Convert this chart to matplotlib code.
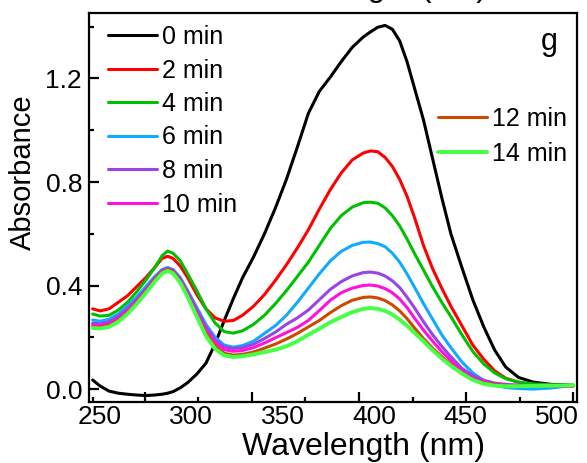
import matplotlib
matplotlib.use("Agg")
import matplotlib.pyplot as plt

plt.rcParams['font.family'] = ['Liberation Sans', 'DejaVu Sans']

# wavelength grid (nm) and absorbance
wavelength = [246, 250, 255, 260, 265, 270, 275, 280, 284, 287, 290, 294, 298, 303, 308, 313, 318,
              323, 328, 334, 340, 346, 352, 358, 364, 370, 376, 382, 388, 394, 398, 402, 406, 410,
              414, 418, 422, 427, 432, 437, 442, 448, 454, 460, 466, 472, 479, 487, 497, 509]

abs_0 = [0.035, 0.012, -0.008, -0.016, -0.02, -0.023, -0.025, -0.023, -0.02, -0.016, -0.01, 0.005,
         0.025, 0.058, 0.10, 0.175, 0.265, 0.35, 0.43, 0.51, 0.60, 0.70, 0.81, 0.935, 1.065, 1.15, 1.205,
         1.265, 1.32, 1.36, 1.38, 1.398, 1.405, 1.39, 1.345, 1.265, 1.165, 1.04, 0.89, 0.74, 0.60, 0.47,
         0.345, 0.24, 0.15, 0.085, 0.045, 0.027, 0.018, 0.015]
abs_2 = [0.31, 0.302, 0.31, 0.335, 0.36, 0.395, 0.43, 0.47, 0.505, 0.513, 0.505, 0.475, 0.43, 0.365,
         0.31, 0.275, 0.262, 0.265, 0.285, 0.32, 0.365, 0.42, 0.48, 0.545, 0.615, 0.695, 0.77, 0.835,
         0.885, 0.912, 0.92, 0.917, 0.895, 0.86, 0.81, 0.745, 0.665, 0.555, 0.465, 0.39, 0.32, 0.245,
         0.17, 0.115, 0.07, 0.042, 0.026, 0.018, 0.015, 0.012]
abs_4 = [0.29, 0.282, 0.285, 0.305, 0.335, 0.375, 0.42, 0.47, 0.515, 0.533, 0.525, 0.495, 0.445, 0.38,
         0.31, 0.255, 0.222, 0.216, 0.225, 0.25, 0.285, 0.33, 0.38, 0.435, 0.49, 0.555, 0.62, 0.67,
         0.703, 0.72, 0.722, 0.718, 0.70, 0.67, 0.63, 0.58, 0.525, 0.46, 0.395, 0.335, 0.28, 0.21,
         0.145, 0.097, 0.062, 0.04, 0.027, 0.02, 0.016, 0.013]
abs_6 = [0.267, 0.262, 0.27, 0.29, 0.32, 0.355, 0.395, 0.435, 0.462, 0.47, 0.462, 0.43, 0.38, 0.315,
         0.25, 0.20, 0.17, 0.162, 0.168, 0.185, 0.215, 0.245, 0.285, 0.335, 0.39, 0.445, 0.495, 0.532,
         0.555, 0.567, 0.568, 0.562, 0.55, 0.525, 0.49, 0.445, 0.395, 0.33, 0.27, 0.21, 0.16, 0.105,
         0.062, 0.033, 0.015, 0.006, 0.002, 0.0, 0.004, 0.015]
abs_8 = [0.255, 0.252, 0.26, 0.28, 0.31, 0.345, 0.385, 0.43, 0.458, 0.466, 0.458, 0.425, 0.375, 0.305,
         0.24, 0.19, 0.163, 0.157, 0.16, 0.173, 0.195, 0.22, 0.25, 0.275, 0.305, 0.345, 0.385, 0.415,
         0.437, 0.45, 0.452, 0.448, 0.437, 0.418, 0.392, 0.355, 0.315, 0.26, 0.21, 0.165, 0.125, 0.08,
         0.052, 0.034, 0.023, 0.018, 0.015, 0.014, 0.013, 0.013]
abs_10 = [0.247, 0.245, 0.252, 0.272, 0.302, 0.338, 0.38, 0.425, 0.455, 0.464, 0.455, 0.42, 0.368, 0.295,
          0.228, 0.178, 0.152, 0.146, 0.149, 0.16, 0.178, 0.198, 0.218, 0.238, 0.265, 0.303, 0.343, 0.372,
          0.39, 0.40, 0.402, 0.398, 0.388, 0.372, 0.348, 0.315, 0.275, 0.228, 0.185, 0.145, 0.11, 0.07,
          0.043, 0.028, 0.019, 0.015, 0.014, 0.013, 0.013, 0.013]
abs_12 = [0.24, 0.238, 0.245, 0.265, 0.295, 0.333, 0.375, 0.42, 0.452, 0.462, 0.452, 0.415, 0.36, 0.285,
          0.215, 0.165, 0.138, 0.131, 0.134, 0.143, 0.158, 0.174, 0.193, 0.215, 0.24, 0.265, 0.295, 0.322,
          0.343, 0.354, 0.356, 0.352, 0.342, 0.325, 0.302, 0.272, 0.237, 0.195, 0.158, 0.125, 0.095, 0.062,
          0.038, 0.024, 0.017, 0.014, 0.013, 0.013, 0.013, 0.013]
abs_14 = [0.236, 0.234, 0.24, 0.26, 0.29, 0.328, 0.37, 0.415, 0.447, 0.457, 0.447, 0.41, 0.355, 0.28,
          0.205, 0.155, 0.13, 0.124, 0.127, 0.134, 0.143, 0.152, 0.165, 0.185, 0.21, 0.233, 0.258, 0.278,
          0.297, 0.31, 0.313, 0.31, 0.302, 0.288, 0.268, 0.245, 0.218, 0.185, 0.15, 0.118, 0.09, 0.06,
          0.035, 0.02, 0.013, 0.011, 0.011, 0.012, 0.013, 0.015]

labels = ['0 min', '2 min', '4 min', '6 min', '8 min', '10 min', '12 min', '14 min']
series = [abs_0, abs_2, abs_4, abs_6, abs_8, abs_10, abs_12, abs_14]
colors = ['#000000', '#ff0000', '#00c000', '#11aaff', '#9944e6', '#ff11dd', '#cc4a00', '#44ff44']
widths = [2.2, 2.2, 2.2, 2.2, 2.2, 2.2, 2.2, 2.8]

# tick marks as drawn in the reference (they do not sit under the labels)
xticks_long = [274.6, 333.2, 391.7, 450.2, 508.8]
xticks_short = [246.2, 303.6, 362.1, 421.2, 479.8]
xtick_labels = [250, 300, 350, 400, 450, 500]

fig = plt.figure(figsize=(5.87, 4.63), dpi=100)
ax = fig.add_axes([89 / 587, 1 - 402 / 463, 488 / 587, 389 / 463])

lines = []
for y, c, lw, lab in zip(series, colors, widths, labels):
    ln, = ax.plot(wavelength, y, color=c, lw=lw, label=lab,
                  solid_capstyle='round', solid_joinstyle='round')
    lines.append(ln)

ax.set_xlim(244, 511)
ax.set_ylim(-0.05, 1.453)

for s in ax.spines.values():
    s.set_linewidth(1.6)

ax.set_xticks(xticks_long)
ax.set_xticks(xticks_short, minor=True)
ax.set_xticklabels([])
ax.set_yticks([0.0, 0.4, 0.8, 1.2])
ax.set_yticks([0.2, 0.6, 1.0, 1.4], minor=True)
ax.set_yticklabels(['0.0', '0.4', '0.8', '1.2'])
ax.tick_params(which='both', direction='in', width=1.6, top=False, right=False)
ax.tick_params(which='major', length=7)
ax.tick_params(which='minor', length=3.6)
ax.tick_params(axis='y', labelsize=19, pad=5)

sec = ax.secondary_xaxis('bottom')
sec.set_xticks(xtick_labels)
sec.set_xticklabels([str(v) for v in xtick_labels])
sec.tick_params(length=0, labelsize=19, pad=2)
sec.spines['bottom'].set_visible(False)

fig.text(364 / 587, 1 - 455 / 463, 'Wavelength (nm)', fontsize=23, ha='center', va='baseline')
# x label of the panel above, cropped at the top edge as in the reference
fig.text(366 / 587, 1 + 4 / 463, 'Wavelength (nm)', fontsize=23, ha='center', va='baseline')
fig.text(23 / 587, 1 - 172 / 463, 'Absorbance', fontsize=21, rotation=90, ha='center', va='center')
ax.text(549 / 587, 1 - 42 / 463, 'g', transform=fig.transFigure, fontsize=22, ha='center', va='center')

leg1 = ax.legend(lines[:6], labels[:6], loc='upper left', bbox_to_anchor=(108 / 587, 1 - 25 / 463),
                 bbox_transform=fig.transFigure, frameon=False, borderpad=0, borderaxespad=0,
                 handlelength=1.96, handletextpad=0.22, labelspacing=0.38, fontsize=18)
ax.add_artist(leg1)
ax.legend(lines[6:], labels[6:], loc='upper left', bbox_to_anchor=(438 / 587, 1 - 107 / 463),
          bbox_transform=fig.transFigure, frameon=False, borderpad=0, borderaxespad=0,
          handlelength=1.96, handletextpad=0.22, labelspacing=0.44, fontsize=18)

fig.savefig('out.png', dpi=100)
